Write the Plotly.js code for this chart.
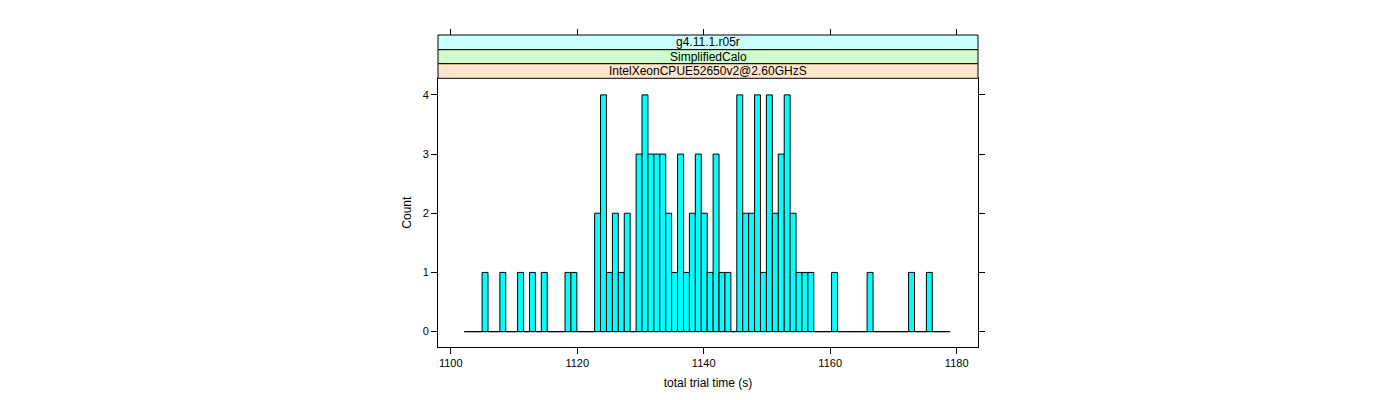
<!DOCTYPE html>
<html>
<head>
<meta charset="utf-8">
<script src="https://cdn.plot.ly/plotly-3.0.1.min.js"></script>
<style>
  html, body { margin: 0; padding: 0; background: #ffffff; }
  #chart { width: 1400px; height: 400px; }
</style>
</head>
<body>
<div id="chart"></div>
<script>
// Histogram breaks (start of first bin and bin width, in seconds)
const binStart = 1102.15;
const binWidth = 0.9366;
// Count per bin (82 bins)
const counts = [
  0, 0, 0, 1, 0, 0, 1, 0, 0, 1,
  0, 1, 0, 1, 0, 0, 0, 1, 1, 0,
  0, 0, 2, 4, 1, 2, 1, 2, 0, 3,
  4, 3, 3, 3, 2, 1, 3, 1, 2, 3,
  2, 1, 3, 1, 1, 0, 4, 2, 2, 4,
  1, 4, 2, 3, 4, 2, 1, 1, 1, 0,
  0, 0, 1, 0, 0, 0, 0, 0, 1, 0,
  0, 0, 0, 0, 0, 1, 0, 0, 1, 0,
  0, 0
];
// Strip labels, from outermost (top) to innermost (bottom)
const stripLabels = ["g4.11.1.r05r", "SimplifiedCalo", "IntelXeonCPUE52650v2@2.60GHzS"];
const stripColors = ["#ccffff", "#ccffcc", "#ffe5cc"];
const xTicks = [1100, 1120, 1140, 1160, 1180];
const yTicks = [0, 1, 2, 3, 4];
const xTitle = "total trial time (s)";
const yTitle = "Count";

const centers = counts.map((c, i) => binStart + (i + 0.5) * binWidth);
const binEnd = binStart + counts.length * binWidth;

const xRange = [1097.99, 1183.37];
const yRange = [-0.26, 4.28];
const font = "Liberation Sans, Arial, Helvetica, sans-serif";

const traces = [
  {
    type: "scatter", mode: "lines",
    x: [binStart, binEnd], y: [0, 0],
    xaxis: "x2", yaxis: "y",
    line: { color: "#000000", width: 1 },
    hoverinfo: "skip", showlegend: false
  },
  {
    type: "bar",
    x: centers, y: counts, width: binWidth,
    marker: { color: "#00ffff", line: { color: "#000000", width: 1 } },
    showlegend: false
  }
];

// strips above the panel (paper coordinates)
const panelTop = 0.8612;
const stripEdges = [1.0, 0.9529, 0.9080, panelTop];
const shapes = [];
const annotations = [];
for (let i = 0; i < stripLabels.length; i++) {
  shapes.push({
    type: "rect", xref: "paper", yref: "paper",
    x0: 0, x1: 1, y0: stripEdges[i + 1], y1: stripEdges[i],
    fillcolor: stripColors[i], line: { color: "#000000", width: 1 }, layer: "above"
  });
  annotations.push({
    xref: "paper", yref: "paper", x: 0.5, y: (stripEdges[i] + stripEdges[i + 1]) / 2,
    text: stripLabels[i], showarrow: false, xanchor: "center", yanchor: "middle",
    font: { family: font, size: 12, color: "#000000" }
  });
}

const layout = {
  width: 1400, height: 400,
  margin: { l: 438, r: 422, t: 35, b: 53 },
  paper_bgcolor: "#ffffff", plot_bgcolor: "#ffffff",
  showlegend: false,
  bargap: 0,
  font: { family: font, size: 11, color: "#000000" },
  xaxis: {
    range: xRange, tickvals: xTicks, ticktext: xTicks.map(String),
    ticks: "outside", ticklen: 6, tickcolor: "#000000", tickwidth: 1,
    showline: true, linecolor: "#000000", linewidth: 1, mirror: true,
    showgrid: false, zeroline: false,
    tickfont: { family: font, size: 11, color: "#000000" },
    title: { text: xTitle, font: { family: font, size: 12, color: "#000000" }, standoff: 10 }
  },
  xaxis2: {
    overlaying: "x", anchor: "free", position: 1, side: "top",
    range: xRange, tickvals: xTicks, showticklabels: false,
    ticks: "outside", ticklen: 6, tickcolor: "#000000", tickwidth: 1,
    showline: false, showgrid: false, zeroline: false
  },
  yaxis: {
    domain: [0, panelTop],
    range: yRange, tickvals: yTicks, ticktext: yTicks.map(String),
    ticks: "outside", ticklen: 6, tickcolor: "#000000", tickwidth: 1,
    showline: true, linecolor: "#000000", linewidth: 1, mirror: "ticks",
    showgrid: false, zeroline: false,
    tickfont: { family: font, size: 11, color: "#000000" },
    title: { text: yTitle, font: { family: font, size: 12, color: "#000000" }, standoff: 8 }
  },
  shapes: shapes,
  annotations: annotations
};

Plotly.newPlot("chart", traces, layout, { displayModeBar: false, staticPlot: true });
</script>
</body>
</html>
